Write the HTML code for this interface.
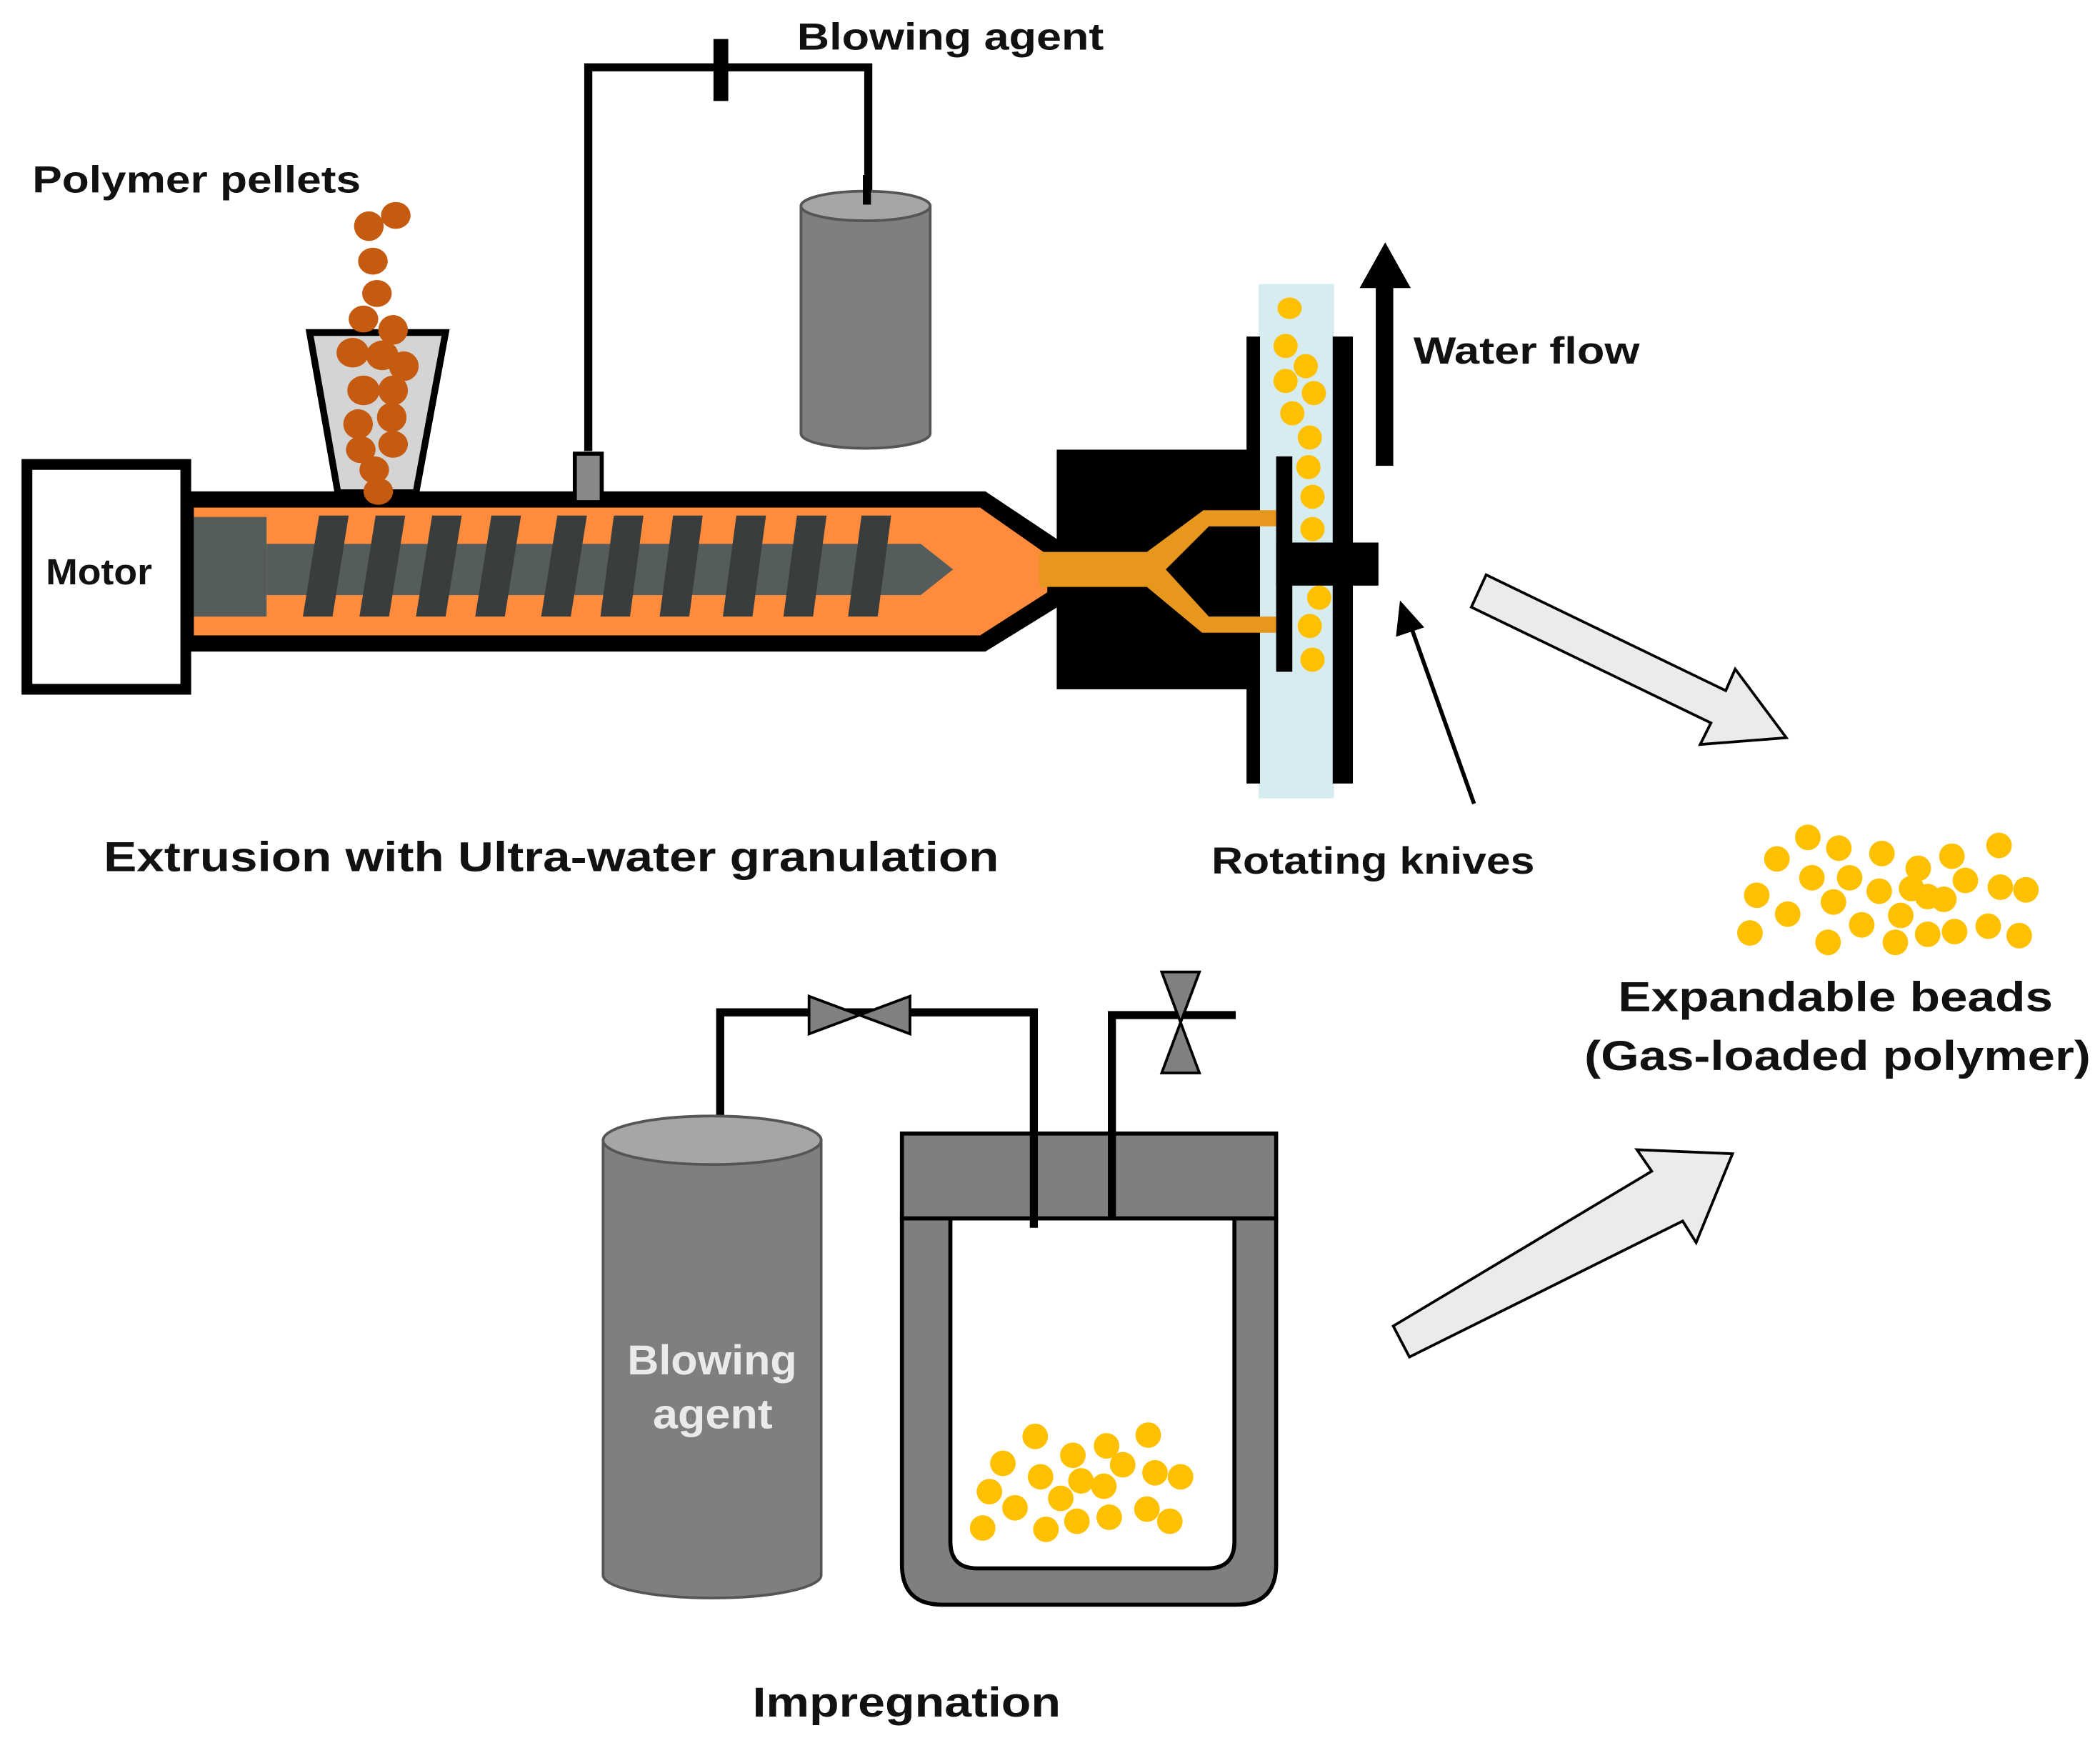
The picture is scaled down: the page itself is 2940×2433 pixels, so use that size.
<!DOCTYPE html>
<html><head><meta charset="utf-8"><style>
html,body{margin:0;padding:0;background:#fff;}
svg{display:block;}
text{font-family:"Liberation Sans",Arial,sans-serif;}
</style></head><body>
<svg width="2940" height="2433" viewBox="0 0 1560 1291" xmlns="http://www.w3.org/2000/svg">
<rect width="1560" height="1291" fill="#fff"/>

<!-- top labels -->
<text x="592" y="37" font-size="28" font-weight="bold" fill="#111" textLength="228" lengthAdjust="spacingAndGlyphs">Blowing agent</text>
<text x="24" y="143" font-size="28" font-weight="bold" fill="#111" textLength="244" lengthAdjust="spacingAndGlyphs">Polymer pellets</text>
<text x="1050" y="270" font-size="28" font-weight="bold" fill="#111" textLength="168" lengthAdjust="spacingAndGlyphs">Water flow</text>
<text x="900" y="649" font-size="28" font-weight="bold" fill="#111" textLength="240" lengthAdjust="spacingAndGlyphs">Rotating knives</text>
<text x="77" y="647" font-size="31" font-weight="bold" fill="#111" textLength="665" lengthAdjust="spacingAndGlyphs">Extrusion with Ultra-water granulation</text>
<text x="1202" y="751" font-size="31" font-weight="bold" fill="#111" textLength="323" lengthAdjust="spacingAndGlyphs">Expandable beads</text>
<text x="1177" y="795" font-size="31" font-weight="bold" fill="#111" textLength="376" lengthAdjust="spacingAndGlyphs">(Gas-loaded polymer)</text>
<text x="559" y="1275" font-size="31" font-weight="bold" fill="#111" textLength="229" lengthAdjust="spacingAndGlyphs">Impregnation</text>

<!-- blowing agent pipe top -->
<polyline points="437,335 437,50 645,50 645,150" fill="none" stroke="#000" stroke-width="6"/>
<rect x="530" y="29" width="11" height="46" fill="#000"/>
<!-- top cylinder -->
<path d="M595,153 L595,322 A48,11 0 0 0 691,322 L691,153 Z" fill="#7f7f7f" stroke="#555" stroke-width="2"/>
<ellipse cx="643" cy="153" rx="48" ry="11" fill="#a6a6a6" stroke="#555" stroke-width="2"/>
<rect x="641" y="130" width="6" height="22" fill="#000"/>

<!-- motor -->
<rect x="20" y="345" width="118" height="167" fill="#fff" stroke="#000" stroke-width="8"/>
<text x="34" y="434" font-size="27" font-weight="bold" fill="#111" textLength="79" lengthAdjust="spacingAndGlyphs">Motor</text>

<!-- barrel -->
<path d="M140,365 L732,365 L792,405 L792,447 L732,484 L140,484 Z" fill="#000"/>
<path d="M144,377 L728,377 L778,412 L778,440 L728,472 L144,472 Z" fill="#ff8c3c"/>
<rect x="144" y="384" width="54" height="74" fill="#555c5c"/>
<path d="M198,404 L684,404 L708,423 L684,442 L198,442 Z" fill="#555c5c"/>
<g fill="#3a3d3d">
<polygon points="237,383 259,383 247,458 225,458"/>
<polygon points="279,383 301,383 289,458 267,458"/>
<polygon points="321,383 343,383 331,458 309,458"/>
<polygon points="365,383 387,383 375,458 353,458"/>
<polygon points="414,383 436,383 424,458 402,458"/>
<polygon points="456,383 478,383 468,458 446,458"/>
<polygon points="500,383 522,383 512,458 490,458"/>
<polygon points="547,383 569,383 559,458 537,458"/>
<polygon points="592,383 614,383 604,458 582,458"/>
<polygon points="640,383 662,383 652,458 630,458"/>
</g>
<rect x="427" y="337" width="20" height="36" fill="#888" stroke="#000" stroke-width="3"/>

<!-- hopper -->
<polygon points="230,247 331,247 309,366 251,366" fill="#d4d4d4" stroke="#000" stroke-width="5"/>
<g fill="#c55a11">
<ellipse cx="294" cy="160" rx="11" ry="10"/><ellipse cx="274" cy="168" rx="11" ry="11"/>
<ellipse cx="277" cy="194" rx="11" ry="10"/><ellipse cx="280" cy="218" rx="11" ry="10"/>
<ellipse cx="270" cy="237" rx="11" ry="10"/><ellipse cx="292" cy="245" rx="11" ry="11"/>
<ellipse cx="262" cy="262" rx="12" ry="11"/><ellipse cx="284" cy="264" rx="12" ry="11"/>
<ellipse cx="300" cy="272" rx="11" ry="11"/><ellipse cx="270" cy="290" rx="12" ry="11"/>
<ellipse cx="292" cy="290" rx="11" ry="11"/><ellipse cx="266" cy="315" rx="11" ry="11"/>
<ellipse cx="291" cy="310" rx="11" ry="11"/><ellipse cx="268" cy="334" rx="11" ry="10"/>
<ellipse cx="292" cy="330" rx="11" ry="10"/><ellipse cx="278" cy="349" rx="11" ry="10"/>
<ellipse cx="281" cy="365" rx="11" ry="10"/>
</g>

<!-- die -->
<rect x="785" y="334" width="153" height="178" fill="#000"/>
<rect x="935" y="211" width="56" height="382" fill="#d6ecf0"/>
<rect x="926" y="250" width="10" height="332" fill="#000"/>
<rect x="990" y="250" width="15" height="332" fill="#000"/>
<path d="M772,410 L852,410 L894,379 L950,379 L950,391 L898,391 L866,423 L898,458 L950,458 L950,470 L893,470 L852,436 L772,436 Z" fill="#e8971e"/>
<rect x="948" y="339" width="12" height="160" fill="#000"/>
<rect x="948" y="403" width="76" height="32" fill="#000"/>
<g fill="#ffc000">
<ellipse cx="958" cy="229" rx="9" ry="8"/><ellipse cx="955" cy="257" rx="9" ry="9"/>
<ellipse cx="970" cy="272" rx="9" ry="9"/><ellipse cx="955" cy="283" rx="9" ry="9"/>
<ellipse cx="976" cy="292" rx="9" ry="9"/><ellipse cx="960" cy="307" rx="9" ry="9"/>
<ellipse cx="973" cy="325" rx="9" ry="9"/><ellipse cx="972" cy="347" rx="9" ry="9"/>
<ellipse cx="975" cy="369" rx="9" ry="9"/><ellipse cx="975" cy="393" rx="9" ry="9"/>
<ellipse cx="980" cy="444" rx="9" ry="9"/><ellipse cx="973" cy="465" rx="9" ry="9"/>
<ellipse cx="975" cy="490" rx="9" ry="9"/>
</g>
<rect x="1022" y="210" width="13" height="136" fill="#000"/>
<polygon points="1010,214 1029,180 1048,214" fill="#000"/>
<line x1="1095" y1="597" x2="1048" y2="465" stroke="#000" stroke-width="3"/>
<polygon points="1040,446 1037,473 1058,466" fill="#000"/>

<!-- big gray arrows -->
<polygon points="1093,451 1271,537 1263,553 1327,548 1289,497 1282,513 1104,427" fill="#ebebeb" stroke="#000" stroke-width="2"/>
<polygon points="1035,985 1047,1008 1250,907 1260,923 1287,857 1216,854 1227,870 1035,985" fill="#ebebeb" stroke="#000" stroke-width="2"/>

<g fill="#ffc000">
<circle cx="1320" cy="638" r="9.5"/><circle cx="1343" cy="622" r="9.5"/><circle cx="1366" cy="630" r="9.5"/>
<circle cx="1398" cy="634" r="9.5"/><circle cx="1425" cy="645" r="9.5"/><circle cx="1450" cy="636" r="9.5"/>
<circle cx="1485" cy="628" r="9.5"/><circle cx="1305" cy="665" r="9.5"/><circle cx="1346" cy="652" r="9.5"/>
<circle cx="1374" cy="652" r="9.5"/><circle cx="1396" cy="662" r="9.5"/><circle cx="1420" cy="660" r="9.5"/>
<circle cx="1444" cy="668" r="9.5"/><circle cx="1460" cy="654" r="9.5"/><circle cx="1486" cy="659" r="9.5"/>
<circle cx="1505" cy="661" r="9.5"/><circle cx="1328" cy="679" r="9.5"/><circle cx="1362" cy="670" r="9.5"/>
<circle cx="1383" cy="687" r="9.5"/><circle cx="1412" cy="680" r="9.5"/><circle cx="1432" cy="666" r="9.5"/>
<circle cx="1452" cy="692" r="9.5"/><circle cx="1477" cy="688" r="9.5"/><circle cx="1500" cy="695" r="9.5"/>
<circle cx="1300" cy="693" r="9.5"/><circle cx="1358" cy="700" r="9.5"/><circle cx="1408" cy="700" r="9.5"/>
<circle cx="1432" cy="694" r="9.5"/>
</g>

<!-- bottom pipes -->
<polyline points="535,847 535,752 768,752 768,912" fill="none" stroke="#000" stroke-width="6"/>
<polyline points="826,905 826,754 918,754" fill="none" stroke="#000" stroke-width="6"/>
<polygon points="601,740 601,768 676,740 676,768" fill="#808080" stroke="#000" stroke-width="2"/>
<polygon points="863,722 891,722 863,797 891,797" fill="#808080" stroke="#000" stroke-width="2"/>

<path d="M448,847 L448,1170 A81,17 0 0 0 610,1170 L610,847 Z" fill="#7f7f7f" stroke="#555" stroke-width="2"/>
<ellipse cx="529" cy="847" rx="81" ry="18" fill="#a6a6a6" stroke="#555" stroke-width="2"/>
<text x="466" y="1021" font-size="31" font-weight="bold" fill="#eaeaea" textLength="126" lengthAdjust="spacingAndGlyphs">Blowing</text>
<text x="485" y="1061" font-size="31" font-weight="bold" fill="#eaeaea" textLength="89" lengthAdjust="spacingAndGlyphs">agent</text>

<path d="M670,905 L948,905 L948,1162 Q948,1192 918,1192 L700,1192 Q670,1192 670,1162 Z" fill="#7f7f7f" stroke="#000" stroke-width="3"/>
<path d="M706,905 L917,905 L917,1145 Q917,1165 897,1165 L726,1165 Q706,1165 706,1145 Z" fill="#fff" stroke="#000" stroke-width="3"/>
<rect x="670" y="842" width="278" height="63" fill="#7f7f7f" stroke="#000" stroke-width="3"/>
<line x1="768" y1="842" x2="768" y2="912" stroke="#000" stroke-width="6"/>
<line x1="826" y1="842" x2="826" y2="905" stroke="#000" stroke-width="6"/>
<g fill="#ffc000">
<circle cx="769" cy="1067" r="9.5"/><circle cx="853" cy="1066" r="9.5"/><circle cx="745" cy="1087" r="9.5"/>
<circle cx="797" cy="1081" r="9.5"/><circle cx="822" cy="1074" r="9.5"/><circle cx="834" cy="1088" r="9.5"/>
<circle cx="773" cy="1097" r="9.5"/><circle cx="803" cy="1100" r="9.5"/><circle cx="858" cy="1094" r="9.5"/>
<circle cx="877" cy="1097" r="9.5"/><circle cx="735" cy="1108" r="9.5"/><circle cx="788" cy="1113" r="9.5"/>
<circle cx="820" cy="1104" r="9.5"/><circle cx="754" cy="1120" r="9.5"/><circle cx="852" cy="1121" r="9.5"/>
<circle cx="730" cy="1135" r="9.5"/><circle cx="777" cy="1136" r="9.5"/><circle cx="800" cy="1130" r="9.5"/>
<circle cx="824" cy="1127" r="9.5"/><circle cx="869" cy="1130" r="9.5"/>
</g>
</svg>
</body></html>
